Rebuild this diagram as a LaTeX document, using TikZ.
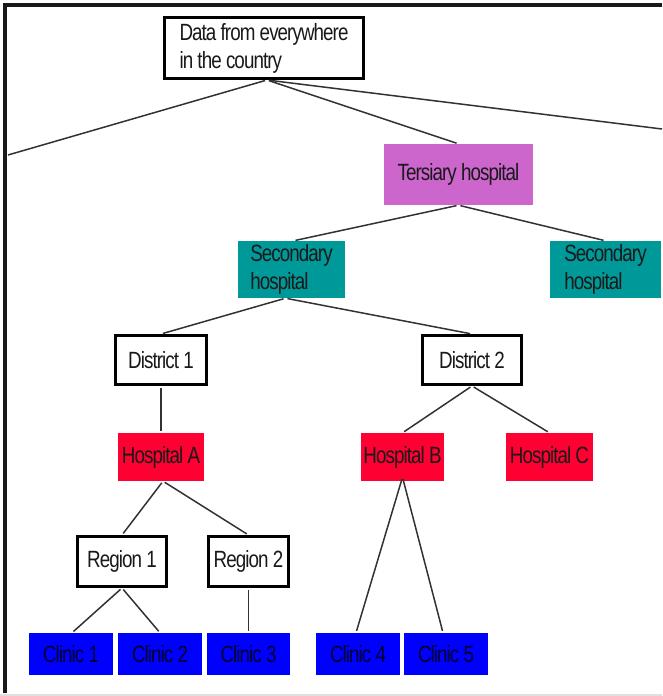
\documentclass[tikz,border=0pt]{standalone}
\usepackage{fontspec}
\setmainfont[FakeStretch=0.8,LetterSpace=-4]{Liberation Sans}
\definecolor{tercol}{RGB}{204,102,204}
\definecolor{seccol}{RGB}{0,153,153}
\definecolor{hospcol}{RGB}{255,0,51}
\definecolor{cliniccol}{RGB}{0,0,255}
\definecolor{clinictext}{RGB}{0,0,45}
\definecolor{linkcol}{RGB}{50,50,50}
\begin{document}
\begin{tikzpicture}[x=1pt,y=-1pt,
  txt/.style={font=\fontsize{23.5}{28}\selectfont, inner sep=0pt, text=black!90},
  wbox/.style={txt, draw=black, line width=3pt, fill=white, align=center},
  cbox/.style={txt, draw=none, fill=#1, align=center},
  link/.style={draw=linkcol, line width=1.5pt, shorten <=2pt, shorten >=2pt},
]
\useasboundingbox (0,0) rectangle (662,696);
% frame
\draw[line width=4pt, black!90] (3,4.5) -- (662,4.5);
\draw[line width=4pt, black!90] (5,3) -- (5,693);
\draw[line width=2pt, black!12] (0,695) -- (662,695);

% nodes
\node[wbox, minimum width=199, minimum height=61, align=left] (data) at (264,48)
  {Data from everywhere\\in the country};
\node[cbox=tercol, minimum width=149, minimum height=61] (ter) at (458.5,174.5) {Tersiary hospital};
\node[cbox=seccol, minimum width=107, minimum height=57, align=left] (sec1) at (291.5,269.5)
  {Secondary\\hospital};
\node[cbox=seccol, minimum width=111, minimum height=57, align=left] (sec2) at (605.5,269.5)
  {Secondary\\hospital};
\node[wbox, minimum width=91, minimum height=49] (d1) at (161,360) {District 1};
\node[wbox, minimum width=99, minimum height=49] (d2) at (472,360) {District 2};
\node[cbox=hospcol, minimum width=86, minimum height=48] (ha) at (161,457) {Hospital A};
\node[cbox=hospcol, minimum width=83, minimum height=48] (hb) at (402.5,457) {Hospital B};
\node[cbox=hospcol, minimum width=87, minimum height=48] (hc) at (549.5,457) {Hospital C};
\node[wbox, minimum width=89, minimum height=50] (r1) at (122,561.5) {Region 1};
\node[wbox, minimum width=80, minimum height=50] (r2) at (248.5,561.5) {Region 2};
\node[cbox=cliniccol, text=clinictext, minimum width=84, minimum height=42] (c1) at (71,654) {Clinic 1};
\node[cbox=cliniccol, text=clinictext, minimum width=84, minimum height=42] (c2) at (160,654) {Clinic 2};
\node[cbox=cliniccol, text=clinictext, minimum width=83, minimum height=42] (c3) at (248.5,654) {Clinic 3};
\node[cbox=cliniccol, text=clinictext, minimum width=84, minimum height=42] (c4) at (358,654) {Clinic 4};
\node[cbox=cliniccol, text=clinictext, minimum width=84, minimum height=42] (c5) at (446,654) {Clinic 5};

\coordinate (leftend) at (8,155);
\coordinate (rightend) at (662,129);

% connectors
\draw[link] ([xshift=3]data.south) -- (ter.north);
\draw[link, shorten >=0pt] ([xshift=3]data.south) -- (leftend);
\draw[link, shorten >=0pt] ([xshift=3]data.south) -- (rightend);
\draw[link] (ter.south) -- ([xshift=2]sec1.north);
\draw[link] (ter.south) -- (sec2.north);
\draw[link] ([xshift=-6]sec1.south) -- (d1.north);
\draw[link] ([xshift=-6]sec1.south) -- (d2.north);
\draw[link] (d1.south) -- (ha.north);
\draw[link] (d2.south) -- (hb.north);
\draw[link] (d2.south) -- (hc.north);
\draw[link] ([xshift=2]ha.south) -- (r1.north);
\draw[link] ([xshift=2]ha.south) -- (r2.north);
\draw[link] ([yshift=4]hb.south) -- ([xshift=-2]c4.north);
\draw[link] ([yshift=4]hb.south) -- ([xshift=-3]c5.north);
\draw[link] (r1.south) -- ([xshift=1]c1.north);
\draw[link] (r1.south) -- (c2.north);
\draw[link] (r2.south) -- (c3.north);
\end{tikzpicture}
\end{document}
